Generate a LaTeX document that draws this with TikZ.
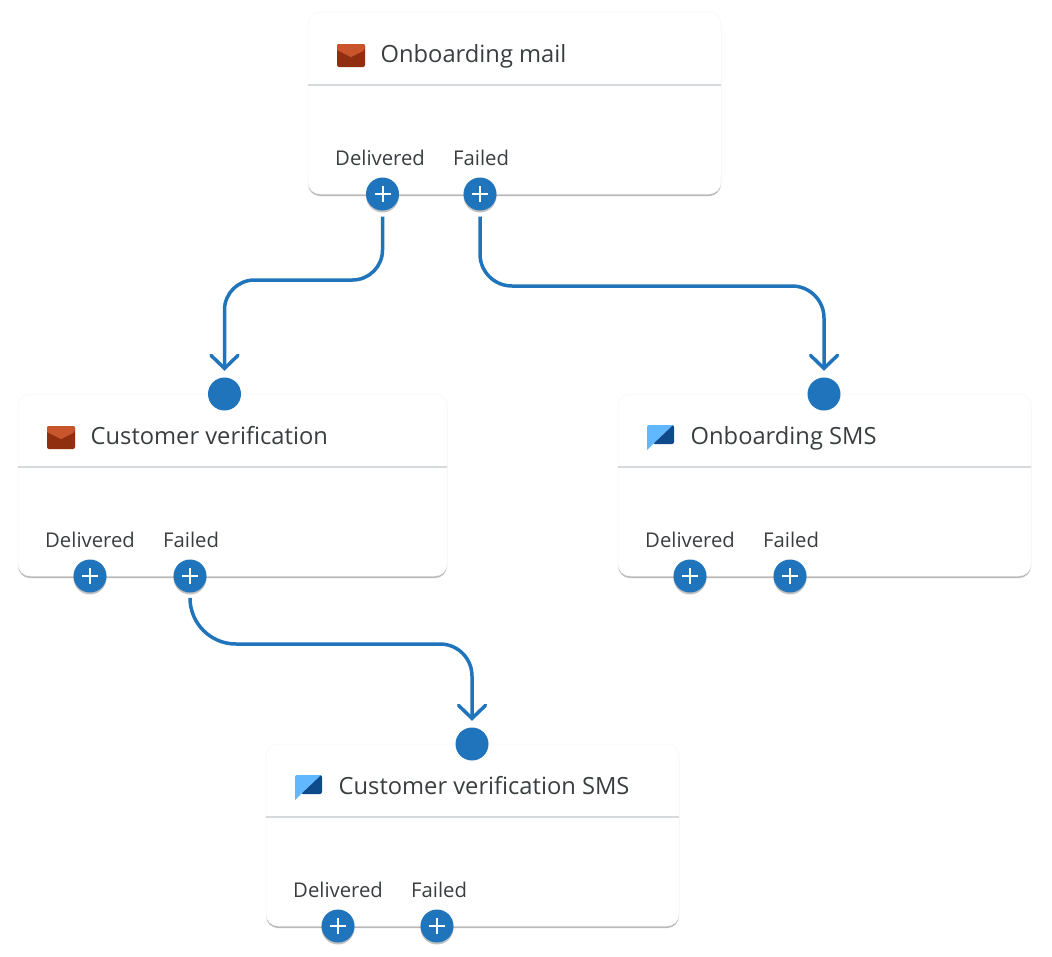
\documentclass[tikz,border=0pt]{standalone}
\usepackage{fontspec}
\setmainfont{Open Sans}
\usetikzlibrary{arrows.meta, shadows}
\definecolor{flow}{HTML}{1F74BB}
\definecolor{ink}{HTML}{3A3E41}
\definecolor{rule}{HTML}{D6D9DC}
\definecolor{mailtop}{HTML}{C9552C}
\definecolor{mailbody}{HTML}{8F2F10}
\definecolor{smslight}{HTML}{62B8FF}
\definecolor{smsdark}{HTML}{0F4A8A}
\tikzset{
  card/.style={rectangle, rounded corners=12pt, fill=white, draw=black!3, line width=.5pt,
    minimum width=413pt, minimum height=182pt, inner sep=0pt,
    drop shadow={shadow xshift=0pt, shadow yshift=-2pt, opacity=.42, fill=black!65}},
  wide/.style={minimum width=429pt},
  title/.style={anchor=base west, inner sep=0pt, text=ink, font=\fontsize{23.7}{28}\selectfont},
  outcome/.style={anchor=base west, inner sep=0pt, text=ink, font=\fontsize{20.3}{24}\selectfont},
  divider/.style={draw=rule, line width=1.2pt},
  dot/.style={circle, fill=flow, minimum size=33pt, inner sep=0pt},
  port/.style={dot, drop shadow={shadow xshift=0pt, shadow yshift=-2pt, opacity=.4, fill=black!60},
    path picture={
      \draw[white, line width=2pt] ([xshift=-8pt]path picture bounding box.center) -- ([xshift=8pt]path picture bounding box.center);
      \draw[white, line width=2pt] ([yshift=-8pt]path picture bounding box.center) -- ([yshift=8pt]path picture bounding box.center);
    }},
  link/.style={draw=flow, line width=3.5pt, shorten <=6pt, shorten >=6.5pt,
    -{Straight Barb[length=13pt, width=27pt, line cap=round]}},
  mailicon/.pic={
    \fill[mailbody, rounded corners=2pt] (0,0) rectangle (28,23);
    \fill[mailtop] (0,6) [rounded corners=2pt] |- (14,0) -| (28,6) [sharp corners] -- (14,13) -- cycle;
  },
  smsicon/.pic={
    \fill[smsdark, rounded corners=2pt] (16,0) -- (27,0) -- (27,19) -- (6,19) -- cycle;
    \fill[smslight] (0,25) -- (0,2) [rounded corners=2pt] -- (0,0) [sharp corners] -- (26,0) -- (6,19) -- cycle;
  }
}
\begin{document}
\begin{tikzpicture}[x=1pt, y=-1pt]
  \useasboundingbox[fill=white] (0,0) rectangle (1052,956);

  \node[card] (mail) at (514.5,103) {};
  \draw[divider] (mail.west |- 0,85) -- (mail.east |- 0,85);
  \pic at (337,44) {mailicon};
  \node[title] (mailtitle) at (380.5,62.5) {Onboarding mail};
  \node[outcome] (maildelivered) at (335,165) {Delivered};
  \node[outcome] (mailfailed) at (453,165) {Failed};
  \node[port] (mailok) at (382.5,194) {};
  \node[port] (mailko) at (480,194) {};

  \node[card, wide] (verify) at (232.5,485) {};
  \draw[divider] (verify.west |- 0,467) -- (verify.east |- 0,467);
  \pic at (47,426) {mailicon};
  \node[title] (verifytitle) at (90.5,444.5) {Customer verification};
  \node[outcome] (verifydelivered) at (45,547) {Delivered};
  \node[outcome] (verifyfailed) at (163,547) {Failed};
  \node[port] (verifyok) at (90,576) {};
  \node[port] (verifyko) at (190,576) {};
  \node[dot] (verifyin) at (224.5,394) {};

  \node[card] (sms) at (824.5,485) {};
  \draw[divider] (sms.west |- 0,467) -- (sms.east |- 0,467);
  \pic at (647,425) {smsicon};
  \node[title] (smstitle) at (690.5,444.5) {Onboarding SMS};
  \node[outcome] (smsdelivered) at (645,547) {Delivered};
  \node[outcome] (smsfailed) at (763,547) {Failed};
  \node[port] (smsok) at (690,576) {};
  \node[port] (smsko) at (790,576) {};
  \node[dot] (smsin) at (824,394) {};

  \node[card] (versms) at (472.5,835) {};
  \draw[divider] (versms.west |- 0,817) -- (versms.east |- 0,817);
  \pic at (295,775) {smsicon};
  \node[title] (versmstitle) at (338.5,794.5) {Customer verification SMS};
  \node[outcome] (versmsdelivered) at (293,897) {Delivered};
  \node[outcome] (versmsfailed) at (411,897) {Failed};
  \node[port] (versmsok) at (338,926) {};
  \node[port] (versmsko) at (437,926) {};
  \node[dot] (versmsin) at (472,744) {};

  \draw[link, rounded corners=30pt] (mailok.south) -- (mailok.south |- 0,280) -- (verifyin.north |- 0,280) -- (verifyin.north);
  \draw[link, rounded corners=32pt] (mailko.south) -- (mailko.south |- 0,286) -- (smsin.north |- 0,286) -- (smsin.north);
  \draw[link, rounded corners=46pt] (verifyko.south) -- (verifyko.south |- 0,644) [rounded corners=32pt] -- (versmsin.north |- 0,644) -- (versmsin.north);
\end{tikzpicture}
\end{document}
